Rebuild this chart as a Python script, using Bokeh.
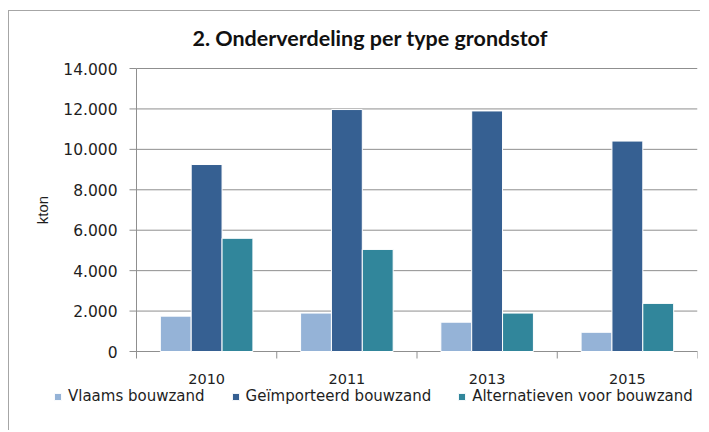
import math
from bokeh.plotting import figure
from bokeh.models import Range1d, Legend, LegendItem, ColumnDataSource
from bokeh.transform import dodge
from bokeh.embed import file_html
from bokeh.resources import INLINE

years = ["2010", "2011", "2013", "2015"]
series_names = ["Vlaams bouwzand", "Geïmporteerd bouwzand", "Alternatieven voor bouwzand"]
vlaams = [1750, 1900, 1450, 950]
geimporteerd = [9250, 11970, 11900, 10410]
alternatieven = [5600, 5050, 1900, 2380]
y_ticks = [0, 2000, 4000, 6000, 8000, 10000, 12000, 14000]
y_tick_labels = ["0", "2.000", "4.000", "6.000", "8.000", "10.000", "12.000", "14.000"]
title_text = "2. Onderverdeling per type grondstof"
y_label = "kton"

colors = ["#95B3D7", "#366092", "#31869B"]
grid_col = "#8f8f8f"
tick_font = "DejaVu Sans"
text_col = "#1e1e1e"

n = len(years)
y_max = y_ticks[-1]
centers = [i + 0.5 for i in range(n)]
bounds = [i for i in range(n + 1)]

# layout in pixels: category span 561 px wide, value span 283 px high;
# the frame also holds the axis texts and the legend (107 px left, 76 px below,
# 10 px above the top gridline)
px_x = 561 / n              # pixels per category
px_y = 283 / y_max          # pixels per kton
x_start = -107 / px_x
y_start = -76 / px_y
y_end = y_max + 10 / px_y
tick_x = 7 / px_x
tick_y = 7 / px_y
lab_gap = 12 / px_x
year_y = -22 / px_y

src = ColumnDataSource(dict(x=centers, year=years, v=vlaams, g=geimporteerd, a=alternatieven))
ysrc = ColumnDataSource(dict(y=y_ticks, lab=y_tick_labels,
                             x0=[0] * len(y_ticks), x1=[n] * len(y_ticks),
                             t0=[-tick_x] * len(y_ticks),
                             lx=[-tick_x - lab_gap] * len(y_ticks)))
xsrc = ColumnDataSource(dict(b=bounds, y0=[0] * len(bounds), y1=[-tick_y] * len(bounds)))
lsrc = ColumnDataSource(dict(x=centers, y=[year_y] * n, t=years))

p = figure(x_range=Range1d(x_start, n), y_range=Range1d(y_start, y_end),
           width=692, height=420, output_backend="svg", toolbar_location=None,
           min_border_left=20, min_border_right=4, min_border_top=47, min_border_bottom=4,
           x_axis_location=None, y_axis_location=None)
p.styles = {"border-top": "1px solid #a6a6a6", "border-left": "1px solid #a6a6a6",
            "margin-top": "10px", "margin-left": "8px"}
p.outline_line_color = None
p.background_fill_color = "white"
p.border_fill_color = "white"
p.xgrid.visible = False
p.ygrid.visible = False

p.title.text = title_text
p.title.align = "left"
p.title.offset = 163
p.title.text_font = "Lato"
p.title.text_font_style = "bold"
p.title.text_font_size = "21.5px"
p.title.text_color = "#111111"
p.title.standoff = 15

# horizontal gridlines over the category span
p.segment(x0="x0", y0="y", x1="x1", y1="y", source=ysrc, line_color=grid_col, line_width=1)
# value axis: line, ticks, labels, title
p.segment(x0=[0], y0=[0], x1=[0], y1=[y_max], line_color=grid_col, line_width=1)
p.segment(x0="t0", y0="y", x1="x0", y1="y", source=ysrc, line_color=grid_col, line_width=1)
p.text(x="lx", y="y", text="lab", source=ysrc, text_align="right", text_baseline="middle",
       text_font={"value": tick_font}, text_font_size="15.5px", text_color=text_col)
p.text(x=[-(137 - 43) / px_x], y=[y_max / 2], text=[y_label], angle=math.pi / 2,
       text_align="center", text_baseline="middle",
       text_font={"value": "Liberation Sans"}, text_font_size="15px", text_color=text_col)
# category axis: line, boundary ticks, labels
p.segment(x0=[0], y0=[0], x1=[n], y1=[0], line_color=grid_col, line_width=1)
p.segment(x0="b", y0="y0", x1="b", y1="y1", source=xsrc, line_color=grid_col, line_width=1)
p.text(x="x", y="y", text="t", source=lsrc, text_align="center", text_baseline="top",
       text_font={"value": tick_font}, text_font_size="14.5px", text_color=text_col)

w = 0.22
r1 = p.vbar(x=dodge("x", -w), top="v", width=w, source=src,
            fill_color=colors[0], line_color="white", line_width=1)
r2 = p.vbar(x=dodge("x", 0), top="g", width=w, source=src,
            fill_color=colors[1], line_color="white", line_width=1)
r3 = p.vbar(x=dodge("x", w), top="a", width=w, source=src,
            fill_color=colors[2], line_color="white", line_width=1)

legend = Legend(items=[LegendItem(label=series_names[0], renderers=[r1]),
                       LegendItem(label=series_names[1], renderers=[r2]),
                       LegendItem(label=series_names[2], renderers=[r3])],
                orientation="horizontal", location=(24, 22),
                glyph_width=9, glyph_height=9, label_standoff=6, spacing=26,
                padding=0, margin=0, border_line_color=None, background_fill_alpha=0,
                label_text_font=tick_font, label_text_font_size="15px",
                label_text_color=text_col)
p.add_layout(legend, "center")

open("out.html", "w").write(file_html(p, INLINE))
